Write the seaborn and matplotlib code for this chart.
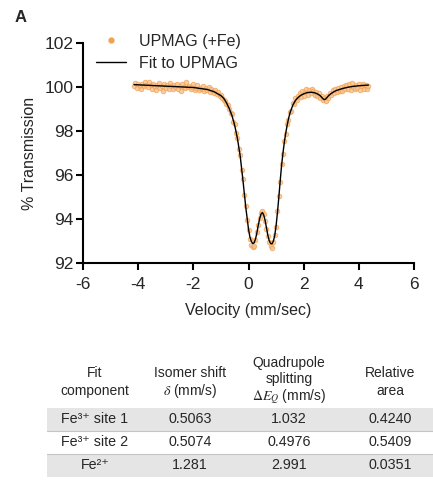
import numpy as np
import pandas as pd
import matplotlib
matplotlib.use("Agg")
import matplotlib.pyplot as plt
import seaborn as sns
from matplotlib.patches import Rectangle
from matplotlib.lines import Line2D

# Datos medidos (velocidad en mm/s, transmision en %)
velocity = [
    -4.15, -4.10, -4.05, -4.00, -3.95, -3.90, -3.85, -3.80, -3.75, -3.70,
    -3.65, -3.60, -3.55, -3.50, -3.45, -3.40, -3.35, -3.30, -3.25, -3.20,
    -3.15, -3.10, -3.05, -3.00, -2.95, -2.90, -2.85, -2.80, -2.75, -2.70,
    -2.65, -2.60, -2.55, -2.50, -2.45, -2.40, -2.35, -2.30, -2.25, -2.20,
    -2.15, -2.10, -2.05, -2.00, -1.95, -1.90, -1.85, -1.80, -1.75, -1.70,
    -1.65, -1.60, -1.55, -1.50, -1.45, -1.40, -1.35, -1.30, -1.25, -1.20,
    -1.15, -1.10, -1.05, -1.00, -0.95, -0.90, -0.85, -0.80, -0.75, -0.70,
    -0.65, -0.60, -0.55, -0.50, -0.45, -0.40, -0.35, -0.30, -0.25, -0.20,
    -0.15, -0.10, -0.05, 0.00, 0.05, 0.10, 0.15, 0.20, 0.25, 0.30,
    0.35, 0.40, 0.45, 0.50, 0.55, 0.60, 0.65, 0.70, 0.75, 0.80,
    0.85, 0.90, 0.95, 1.00, 1.05, 1.10, 1.15, 1.20, 1.25, 1.30,
    1.35, 1.40, 1.45, 1.50, 1.55, 1.60, 1.65, 1.70, 1.75, 1.80,
    1.85, 1.90, 1.95, 2.00, 2.05, 2.10, 2.15, 2.20, 2.25, 2.30,
    2.35, 2.40, 2.45, 2.50, 2.55, 2.60, 2.65, 2.70, 2.75, 2.80,
    2.85, 2.90, 2.95, 3.00, 3.05, 3.10, 3.15, 3.20, 3.25, 3.30,
    3.35, 3.40, 3.45, 3.50, 3.55, 3.60, 3.65, 3.70, 3.75, 3.80,
    3.85, 3.90, 3.95, 4.00, 4.05, 4.10, 4.15, 4.20, 4.25, 4.30,
    4.35,
]
transmission = [
    100.05, 100.18, 99.95, 100.12, 100.02, 99.92, 100.15, 100.05, 100.22, 100.10,
    99.98, 100.24, 100.06, 99.90, 100.14, 100.00, 99.85, 100.08, 100.16, 99.95,
    100.03, 99.82, 100.12, 99.96, 100.10, 99.88, 100.18, 100.02, 99.92, 100.06,
    99.98, 100.15, 99.90, 100.04, 99.80, 100.12, 100.00, 99.93, 100.20, 99.97,
    100.05, 99.88, 99.98, 100.14, 99.86, 99.95, 100.08, 99.84, 99.96, 99.90,
    100.02, 99.82, 99.93, 99.86, 99.98, 99.78, 99.90, 99.80, 99.74, 99.85,
    99.68, 99.76, 99.58, 99.62, 99.50, 99.42, 99.35, 99.22, 99.16, 98.98,
    98.80, 98.75, 98.40, 98.30, 97.90, 97.70, 97.20, 96.90, 96.25, 95.80,
    95.10, 94.60, 93.95, 93.50, 93.10, 92.85, 92.75, 92.80, 93.05, 93.40,
    93.75, 94.05, 94.30, 94.35, 94.25, 93.90, 93.55, 93.25, 92.95, 92.80,
    92.70, 92.95, 93.30, 93.65, 94.35, 95.05, 95.70, 96.50, 96.95, 97.55,
    97.85, 98.30, 98.50, 98.85, 98.90, 99.25, 99.20, 99.48, 99.40, 99.60,
    99.70, 99.55, 99.82, 99.60, 99.78, 99.90, 99.65, 99.85, 99.70, 99.92,
    99.80, 99.62, 99.78, 99.58, 99.72, 99.50, 99.60, 99.38, 99.48, 99.35,
    99.58, 99.50, 99.72, 99.62, 99.85, 99.70, 99.92, 99.76, 99.95, 99.82,
    99.98, 99.80, 100.05, 99.88, 100.10, 99.92, 100.12, 99.85, 100.18, 100.00,
    99.90, 100.08, 99.96, 100.15, 99.84, 100.04, 100.12, 99.92, 100.06, 99.88,
    100.02,
]

# Curva de ajuste
fit_velocity = [
    -4.15, -3.5, -3.0, -2.5, -2.0, -1.5, -1.25, -1.0, -0.9, -0.8,
    -0.7, -0.6, -0.5, -0.4, -0.3, -0.2, -0.1, 0.0, 0.05, 0.1,
    0.15, 0.2, 0.25, 0.3, 0.35, 0.4, 0.45, 0.5, 0.55, 0.6,
    0.65, 0.7, 0.75, 0.8, 0.85, 0.9, 0.95, 1.0, 1.05, 1.1,
    1.15, 1.2, 1.25, 1.3, 1.35, 1.4, 1.45, 1.5, 1.6, 1.7,
    1.8, 1.9, 2.0, 2.1, 2.2, 2.3, 2.4, 2.5, 2.6, 2.65,
    2.7, 2.75, 2.8, 2.85, 2.9, 3.0, 3.1, 3.2, 3.4, 3.6,
    3.8, 4.0, 4.35,
]
fit_transmission = [
    100.10, 100.06, 100.03, 100.00, 99.97, 99.88, 99.78, 99.60, 99.48, 99.28,
    99.02, 98.70, 98.25, 97.65, 96.85, 95.75, 94.55, 93.55, 93.20, 93.00,
    92.90, 92.92, 93.08, 93.35, 93.70, 94.00, 94.22, 94.30, 94.20, 93.95,
    93.62, 93.28, 93.03, 92.90, 92.88, 93.00, 93.25, 93.70, 94.30, 95.00,
    95.75, 96.45, 97.00, 97.50, 97.90, 98.25, 98.55, 98.80, 99.15, 99.38,
    99.52, 99.62, 99.68, 99.73, 99.75, 99.75, 99.73, 99.68, 99.60, 99.53,
    99.46, 99.42, 99.45, 99.52, 99.60, 99.70, 99.78, 99.84, 99.92, 99.98,
    100.02, 100.05, 100.08,
]

# Tabla de parametros
components = ["Fe\u00b3\u207a site 1", "Fe\u00b3\u207a site 2", "Fe\u00b2\u207a"]
isomer_shift = ["0.5063", "0.5074", "1.281"]
quad_splitting = ["1.032", "0.4976", "2.991"]
rel_area = ["0.4240", "0.5409", "0.0351"]
headers = ["Fit\ncomponent", "Isomer shift\n$\\delta$ (mm/s)",
           "Quadrupole\nsplitting\n$\\Delta E_Q$ (mm/s)", "Relative\narea"]

sns.set_style("ticks")
plt.rcParams["font.family"] = ["Liberation Sans", "DejaVu Sans"]
plt.rcParams["mathtext.fontset"] = "stix"
plt.rcParams["axes.unicode_minus"] = False

ORANGE = "#F2A14F"

fig = plt.figure(figsize=(4.33, 4.82), dpi=100)

# Tabla (coordenadas en pixeles)
tax = fig.add_axes([0, 0, 1, 1], zorder=0)
tax.set_xlim(0, 433)
tax.set_ylim(482, 0)
tax.axis("off")

col_x = [95, 190, 289, 390]
tax.text(col_x[0], 382, headers[0], ha="center", va="center", fontsize=10, linespacing=1.35)
tax.text(col_x[1], 383, headers[1], ha="center", va="center", fontsize=10, linespacing=1.15)
tax.text(col_x[2], 381, headers[2], ha="center", va="center", fontsize=10, linespacing=1.15)
tax.text(col_x[3], 382, headers[3], ha="center", va="center", fontsize=10, linespacing=1.35)

row_top = [408, 431, 454]
row_h = 22.5
for i in range(3):
    if i != 1:
        tax.add_patch(Rectangle((47, row_top[i]), 386, row_h, color="#e5e5e5", lw=0))
    if i > 0:
        tax.plot([47, 433], [row_top[i], row_top[i]], color="#c4c4c4", lw=0.8)
    yc = row_top[i] + row_h / 2
    for cx, val in zip(col_x, [components[i], isomer_shift[i], quad_splitting[i], rel_area[i]]):
        tax.text(cx, yc, val, ha="center", va="center", fontsize=10.3)

# Grafico principal
ax = fig.add_axes([83 / 433, (482 - 263.3) / 482, 331 / 433, 220.6 / 482], zorder=1)
ax.patch.set_alpha(0)
df = pd.DataFrame({"v": velocity, "t": transmission})
sns.scatterplot(data=df, x="v", y="t", ax=ax, s=11, marker="o", color="#F7C18E",
                edgecolor=ORANGE, linewidth=0.6, alpha=0.8, zorder=2, legend=False)
sns.lineplot(x=fit_velocity, y=fit_transmission, ax=ax, color="black", lw=1.0,
             sort=False, zorder=3, legend=False)

ax.set_xlim(-6, 6)
ax.set_ylim(92, 102)
ax.set_xticks([-6, -4, -2, 0, 2, 4, 6])
ax.set_yticks([92, 94, 96, 98, 100, 102])
ax.set_xlabel("Velocity (mm/sec)", fontsize=11.5, labelpad=8)
ax.set_ylabel("% Transmission", fontsize=11.5, labelpad=5)
ax.tick_params(labelsize=12.5, width=1.5, length=5, color="black")
ax.tick_params(axis="x", pad=5)
ax.tick_params(axis="y", pad=2)
for s in ["left", "bottom"]:
    ax.spines[s].set_linewidth(1.5)
    ax.spines[s].set_color("black")
sns.despine(ax=ax)

handles = [
    Line2D([], [], marker="o", ls="none", color=ORANGE, markersize=3.5),
    Line2D([], [], color="black", lw=1.0),
]
ax.legend(handles, ["UPMAG (+Fe)", "Fit to UPMAG"], loc="upper left",
          bbox_to_anchor=(0.02, 1.07), frameon=False, fontsize=11.5,
          handlelength=1.9, handletextpad=0.8, labelspacing=0.45, borderaxespad=0)

fig.text(15 / 433, 1 - 18 / 482, "A", fontsize=12, fontweight="bold", ha="left", va="center")

fig.savefig("out.png", dpi=100)
